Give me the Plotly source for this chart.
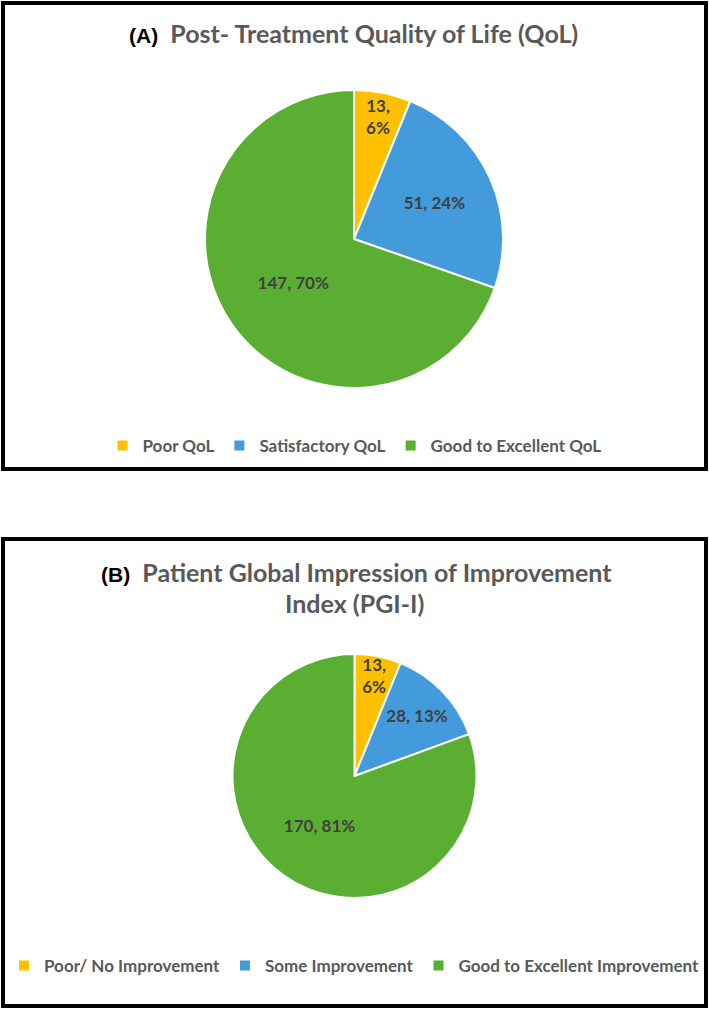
import plotly.graph_objects as go

W, H = 709, 1010

# ---- data ----
qol_labels = ["Poor QoL", "Satisfactory QoL", "Good to Excellent QoL"]
qol_values = [13, 51, 147]
qol_pcts = [6, 24, 70]

pgi_labels = ["Poor/ No Improvement", "Some Improvement", "Good to Excellent Improvement"]
pgi_values = [13, 28, 170]
pgi_pcts = [6, 13, 81]

colors = ["#FFC000", "#439BDB", "#5AAF33"]

FONT = "Lato"
GRAY = "#595959"
LABEL = "#404040"


def px_x(v):
    return v / W


def px_y(v):
    return 1 - v / H


def make_text(values, pcts):
    out = []
    for v, p in zip(values, pcts):
        if p < 10:
            out.append(f"{v},<br>{p}%")
        else:
            out.append(f"{v}, {p}%")
    return out


fig = go.Figure()

fig.add_trace(go.Pie(
    labels=qol_labels, values=qol_values, text=make_text(qol_values, qol_pcts),
    textinfo="text", textposition="inside", insidetextorientation="horizontal",
    sort=False, direction="clockwise", rotation=0,
    marker=dict(colors=colors, line=dict(color="white", width=2)),
    textfont=dict(family=FONT, size=17, color=LABEL, weight="bold"),
    domain=dict(x=[px_x(354 - 149), px_x(354 + 149)], y=[px_y(388), px_y(90)]),
    legend="legend", hoverinfo="skip",
))

fig.add_trace(go.Pie(
    labels=pgi_labels, values=pgi_values, text=make_text(pgi_values, pgi_pcts),
    textinfo="text", textposition="inside", insidetextorientation="horizontal",
    sort=False, direction="clockwise", rotation=0,
    marker=dict(colors=colors, line=dict(color="white", width=2)),
    textfont=dict(family=FONT, size=17, color=LABEL, weight="bold"),
    domain=dict(x=[px_x(354.5 - 122), px_x(354.5 + 122)], y=[px_y(898), px_y(654)]),
    legend="legend2", hoverinfo="skip",
))

legend_common = dict(
    orientation="h", xanchor="center", x=0.5, yanchor="middle",
    font=dict(family=FONT, size=17, color=GRAY, weight="bold"),
    bgcolor="rgba(0,0,0,0)", itemclick=False, itemdoubleclick=False,
)

shapes = [
    dict(type="rect", xref="paper", yref="paper",
         x0=px_x(3), x1=px_x(706), y0=px_y(469), y1=px_y(3),
         line=dict(color="black", width=4), fillcolor="rgba(0,0,0,0)"),
    dict(type="rect", xref="paper", yref="paper",
         x0=px_x(3), x1=px_x(706), y0=px_y(1006), y1=px_y(539),
         line=dict(color="black", width=4), fillcolor="rgba(0,0,0,0)"),
]

tag = "<span style='font-family:Arial;color:black;font-size:21px'>{}</span>"

annotations = [
    dict(text=tag.format("(A)") + "  Post- Treatment Quality of Life (QoL)",
         xref="paper", yref="paper", x=px_x(353), y=px_y(33), xanchor="center", yanchor="middle",
         showarrow=False, font=dict(family=FONT, size=25, color=GRAY, weight="bold")),
    dict(text=tag.format("(B)") + "  Patient Global Impression of Improvement",
         xref="paper", yref="paper", x=px_x(356), y=px_y(572), xanchor="center", yanchor="middle",
         showarrow=False, font=dict(family=FONT, size=25, color=GRAY, weight="bold")),
    dict(text="Index (PGI-I)",
         xref="paper", yref="paper", x=px_x(354), y=px_y(603), xanchor="center", yanchor="middle",
         showarrow=False, font=dict(family=FONT, size=25, color=GRAY, weight="bold")),
]

fig.update_layout(
    width=W, height=H,
    margin=dict(l=0, r=0, t=0, b=0),
    paper_bgcolor="white", plot_bgcolor="white",
    showlegend=True,
    uniformtext=dict(minsize=17, mode="show"),
    legend=dict(y=px_y(446), **legend_common),
    legend2=dict(y=px_y(966), **legend_common),
    shapes=shapes, annotations=annotations,
)

fig.write_html("out.html")
